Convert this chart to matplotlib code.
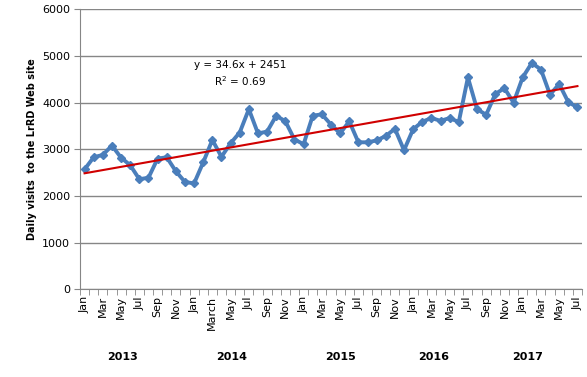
import matplotlib
matplotlib.use("Agg")
import matplotlib.pyplot as plt
import numpy as np

months = ["Jan", "Feb", "Mar", "Apr", "May", "Jun", "Jul", "Aug", "Sep", "Oct", "Nov", "Dec"] * 4 + \
         ["Jan", "Feb", "Mar", "Apr", "May", "Jun", "Jul"]
tick_labels = ["Jan", "Mar", "May", "Jul", "Sep", "Nov",
               "Jan", "March", "May", "Jul", "Sep", "Nov",
               "Jan", "Mar", "May", "Jul", "Sep", "Nov",
               "Jan", "Mar", "May", "Jul", "Sep", "Nov",
               "Jan", "Mar", "May", "Jul"]
visits = [2570, 2830, 2880, 3080, 2820, 2660, 2360, 2390, 2800, 2830, 2530, 2300,
          2270, 2720, 3200, 2840, 3130, 3360, 3860, 3340, 3380, 3720, 3600, 3210,
          3110, 3720, 3750, 3530, 3340, 3600, 3150, 3150, 3190, 3285, 3440, 2980,
          3430, 3590, 3670, 3610, 3670, 3585, 4540, 3860, 3740, 4185, 4310, 4000,
          4540, 4850, 4710, 4170, 4400, 4010, 3900]
years = ["2013", "2014", "2015", "2016", "2017"]
year_label_pos = [4.2, 16.1, 28.0, 38.2, 48.5]
trend_slope = 34.6
trend_intercept = 2451

W, H = 587, 377
fig = plt.figure(figsize=(W / 100, H / 100), dpi=100)
ax = fig.add_axes([80 / W, 1 - 289.3 / H, (582 - 80) / W, 280 / H])

x = np.arange(len(visits))
ax.plot(x, visits, color="#4A7EBB", lw=2.8, marker="D", ms=4.5, zorder=3)
xt = x + 1
ax.plot(x, trend_slope * xt + trend_intercept, color="#D00000", lw=1.5, zorder=4)

ax.set_xlim(-0.5, len(visits) - 0.5)
ax.set_ylim(0, 6000)
ax.set_yticks(range(0, 6001, 1000))
ax.yaxis.grid(True, color="#868686", lw=1)
ax.set_axisbelow(True)
for s in ["top", "right"]:
    ax.spines[s].set_visible(False)
for s in ["left", "bottom"]:
    ax.spines[s].set_color("#868686")
ax.tick_params(axis="y", labelsize=8, length=4, color="#868686", pad=3)

ax.set_xticks(x[::2])
ax.set_xticklabels(tick_labels, rotation=90, fontsize=8)
ax.tick_params(axis="x", which="major", length=0, pad=5)
ax.set_xticks(np.arange(-0.5, len(visits), 1), minor=True)
ax.tick_params(axis="x", which="minor", length=4, color="#868686")

for yr, pos in zip(years, year_label_pos):
    ax.text(pos, -1450, yr, ha="center", va="center", fontsize=8, fontweight="bold",
            transform=ax.transData, clip_on=False)

fig.text(32 / W, 1 - 149 / H, "Daily visits  to the LrRD Web site", rotation=90,
         ha="center", va="center", fontsize=7, fontweight="bold")

ax.text(17.0, 4810, "y = 34.6x + 2451", ha="center", va="center", fontsize=7.5)
ax.text(17.0, 4470, "R$^2$ = 0.69", ha="center", va="center", fontsize=7.5)

fig.savefig("out.png", dpi=100)
